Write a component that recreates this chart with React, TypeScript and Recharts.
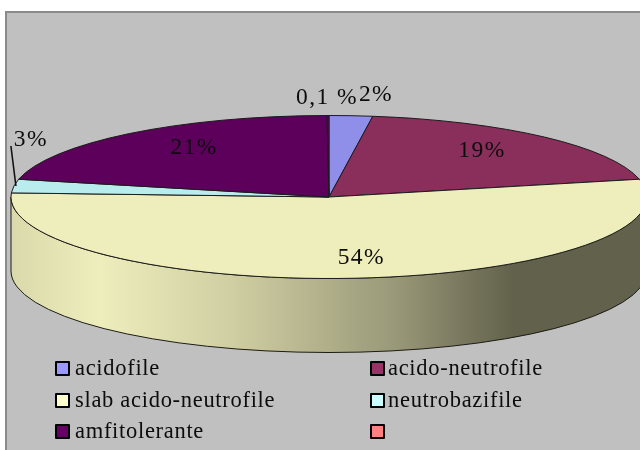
import React from 'react';
import { PieChart, Pie, Legend } from 'recharts';

const CATEGORIES = ['acidofile', 'acido-neutrofile', 'slab acido-neutrofile', 'neutrobazifile', 'amfitolerante', ''];
const VALUES = [2.2, 19.3, 54.3, 2.7, 21.4, 0.1];
const VALUE_LABELS = ['2%', '19%', '54%', '3%', '21%', '0,1 %'];
const LEGEND_COLORS = ['#9999FF', '#993366', '#FFFFCC', '#CCFFFF', '#660066', '#FF8080'];
const FACE_COLORS = ['#8F8FEA', '#8A2E5C', '#EEEDBC', '#B9ECEC', '#5C005C', '#5C005C'];

// label anchor as a multiple of the ellipse radii along each slice's middle angle
const LABEL_FX = [2.14, 0.71, 1.2, 0.946, 0.676, 2.0];
const LABEL_FY = [1.28, 0.8, 0.727, 5.33, 0.8, 1.24];

const W = 640;
const H = 450;
const CX = 329;
const CY = 197;
const RX = 318;
const RY = 81.5;
const DEPTH = 74;
const RAD = Math.PI / 180;

const rows = CATEGORIES.map((name, i) => ({
  name,
  value: VALUES[i],
  fill: LEGEND_COLORS[i],
  face: FACE_COLORS[i],
  text: VALUE_LABELS[i],
  fx: LABEL_FX[i],
  fy: LABEL_FY[i],
}));

const pt = (a: number, dy = 0) => [CX + RX * Math.cos(a * RAD), CY - RY * Math.sin(a * RAD) + dy];

function Slice(props: any) {
  const { startAngle, endAngle } = props;
  const row = props.payload ?? props;
  const face = props.face ?? row.face;
  const [sx, sy] = pt(startAngle);
  const [ex, ey] = pt(endAngle);
  const large = Math.abs(startAngle - endAngle) > 180 ? 1 : 0;
  const d = `M${CX},${CY}L${sx},${sy}A${RX},${RY} 0 ${large} 1 ${ex},${ey}Z`;
  // the visible rim is the part of the arc in the lower half of the ellipse
  const rs = Math.min(startAngle, 0);
  const re = Math.max(endAngle, -180);
  let rim: React.ReactNode = null;
  if (rs > re) {
    const [ax, ay] = pt(rs);
    const [bx, by] = pt(re);
    const rimD = `M${ax},${ay}A${RX},${RY} 0 0 1 ${bx},${by}L${bx},${by + DEPTH}A${RX},${RY} 0 0 0 ${ax},${ay + DEPTH}Z`;
    rim = <path d={rimD} fill="url(#rimShade)" stroke="#1c1c14" strokeWidth={1} />;
  }
  return (
    <g>
      {rim}
      <path d={d} fill={face} stroke="#1c1c1c" strokeWidth={1} strokeLinejoin="round" />
    </g>
  );
}

function SliceLabel(props: any) {
  const row = props.payload ?? props;
  const a = props.midAngle * RAD;
  const x = CX + RX * row.fx * Math.cos(a);
  const y = CY - RY * row.fy * Math.sin(a);
  return (
    <text
      x={x}
      y={y}
      textAnchor="middle"
      dominantBaseline="central"
      fontFamily="'Liberation Serif', serif"
      fontSize={23.5}
      letterSpacing={1.4}
      fill="#0c0c0c"
    >
      {row.text}
    </text>
  );
}

function LeaderLine(props: any) {
  const row = props.payload ?? props;
  if (row.text !== '3%') return <g />;
  const [x, y] = pt(props.midAngle);
  return <line x1={x + 2} y1={y} x2={x - 3} y2={y - 40} stroke="#111" strokeWidth={1.6} />;
}

function LegendBlock() {
  return (
    <div style={{ position: 'relative', width: W, height: 95, fontFamily: "'Liberation Serif', serif" }}>
      {rows.map((r, i) => {
        const col = i % 2;
        const row = Math.floor(i / 2);
        const left = col === 0 ? 55 : 370;
        const top = row * 31.5;
        return (
          <div key={i} style={{ position: 'absolute', left, top, height: 16 }}>
            <span
              style={{
                position: 'absolute',
                left: 0,
                top: 1,
                width: 11,
                height: 11,
                background: r.fill,
                border: '2px solid #000',
                borderRadius: 1,
              }}
            />
            <span
              style={{
                position: 'absolute',
                left: col === 0 ? 20 : 18,
                top: -4,
                fontSize: 22.5,
                lineHeight: '24px',
                letterSpacing: 0.7,
                whiteSpace: 'nowrap',
                color: '#0c0c0c',
              }}
            >
              {r.name}
            </span>
          </div>
        );
      })}
    </div>
  );
}

export default function App() {
  return (
    <div
      style={{
        position: 'absolute',
        left: 0,
        top: 0,
        width: W,
        height: H,
        overflow: 'hidden',
        background: '#fff',
        filter: 'blur(0.35px)',
      }}
    >
      <div
        style={{
          position: 'absolute',
          left: 5,
          top: 11,
          width: W - 7,
          height: H - 13,
          background: '#C0C0C0',
          borderLeft: '2px solid #8a8a8a',
          borderTop: '2px solid #8a8a8a',
        }}
      />
      <div style={{ position: 'absolute', left: 0, top: 0 }}>
        <PieChart width={W} height={H} margin={{ top: 0, right: 0, bottom: 0, left: 0 }}>
          <defs>
            <linearGradient id="rimShade" gradientUnits="userSpaceOnUse" x1={CX - RX} y1={0} x2={CX + RX} y2={0}>
              <stop offset="0" stopColor="#DAD9AB" />
              <stop offset="0.14" stopColor="#EEEDBC" />
              <stop offset="0.35" stopColor="#CFCEA2" />
              <stop offset="0.6" stopColor="#9A9979" />
              <stop offset="0.79" stopColor="#62614B" />
              <stop offset="1" stopColor="#62614B" />
            </linearGradient>
          </defs>
          <Pie
            data={rows}
            dataKey="value"
            nameKey="name"
            cx={CX}
            cy={CY}
            outerRadius={RX}
            startAngle={90}
            endAngle={-270}
            isAnimationActive={false}
            shape={Slice}
            label={SliceLabel}
            labelLine={LeaderLine}
          />
          <Legend content={LegendBlock} wrapperStyle={{ position: 'absolute', left: 0, top: 360, width: W, height: 95 }} />
        </PieChart>
      </div>
    </div>
  );
}
